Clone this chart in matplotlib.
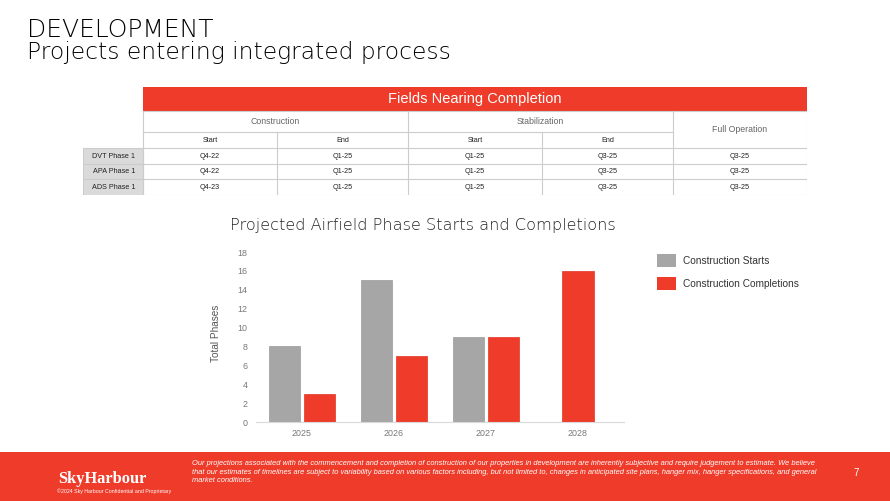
import matplotlib
matplotlib.use('Agg')
import matplotlib.pyplot as plt
from matplotlib.patches import Rectangle, Patch

W, H = 890, 501

# ---------------- data ----------------
years = ['2025', '2026', '2027', '2028']
construction_starts = [8, 15, 9, None]
construction_completions = [3, 7, 9, 16]
series_names = ['Construction Starts', 'Construction Completions']
yticks = [0, 2, 4, 6, 8, 10, 12, 14, 16, 18]

table_title = 'Fields Nearing Completion'
group_labels = ['Construction', 'Stabilization', 'Full Operation']
sub_labels = ['Start', 'End', 'Start', 'End']
row_labels = ['DVT Phase 1', 'APA Phase 1', 'ADS Phase 1']
construction_start = ['Q4-22', 'Q4-22', 'Q4-23']
construction_end = ['Q1-25', 'Q1-25', 'Q1-25']
stabilization_start = ['Q1-25', 'Q1-25', 'Q1-25']
stabilization_end = ['Q3-25', 'Q3-25', 'Q3-25']
full_operation = ['Q3-25', 'Q3-25', 'Q3-25']

title = 'DEVELOPMENT'
subtitle = 'Projects entering integrated process'
chart_title = 'Projected Airfield Phase Starts and Completions'
y_label = 'Total Phases'
logo = 'SkyHarbour'
copyright_text = '\u00a92024 Sky Harbour Confidential and Proprietary'
disclaimer = ('Our projections associated with the commencement and completion of construction of our properties in development are inherently subjective and require judgement to estimate. We believe\n'
              'that our estimates of timelines are subject to variability based on various factors including, but not limited to, changes in anticipated site plans, hanger mix, hanger specifications, and general\n'
              'market conditions.')
page_number = '7'

# ---------------- style ----------------
RED = '#ee3b2a'
GRAY = '#a6a6a6'
SANS = 'Liberation Sans'

fig = plt.figure(figsize=(W / 100, H / 100), dpi=100)
fig.patch.set_facecolor('white')


def fx(px):
    return px / W


def fy(py):
    return 1 - py / H


# ---------------- titles ----------------
fig.text(fx(27), fy(37), title, fontsize=18, family='DejaVu Sans', color='#000000',
         va='baseline', ha='left', fontweight='light')
fig.text(fx(27), fy(59), subtitle, fontsize=16.8, family='DejaVu Sans', color='#000000',
         va='baseline', ha='left', fontweight='light')

# ---------------- table ----------------
col_w = [60, 134, 131, 134, 131, 134]
row_h = [24, 21, 16, 16, 15, 16]
tx0, ty0 = 83, 87
tw, th = sum(col_w), sum(row_h)
axt = fig.add_axes([fx(tx0), fy(ty0 + th), tw / W, th / H])
axt.set_xlim(0, tw)
axt.set_ylim(th, 0)
axt.axis('off')

cx = [0]
for w in col_w:
    cx.append(cx[-1] + w)
ry = [0]
for h in row_h:
    ry.append(ry[-1] + h)

LINE = '#cccccc'
lw = 0.8
# header
axt.add_patch(Rectangle((cx[1], ry[0]), cx[6] - cx[1], row_h[0], facecolor=RED, edgecolor='none'))
axt.text((cx[1] + cx[6]) / 2, (ry[0] + ry[1]) / 2 + 0.5, table_title, color='white', fontsize=10.5,
         family=SANS, ha='center', va='center')

# row label cells
for i, lab in enumerate(row_labels):
    y0 = ry[3 + i]
    axt.add_patch(Rectangle((cx[0], y0), col_w[0], row_h[3 + i], facecolor='#dadada',
                            edgecolor=LINE, lw=lw))
    axt.text(cx[1] - 8, y0 + row_h[3 + i] / 2, lab, fontsize=5.2, family=SANS, color='#222222',
             ha='right', va='center')

# group row
group_spans = [(1, 3), (3, 5), (5, 6)]
for (a, b), lab in zip(group_spans, group_labels):
    if lab == group_labels[-1]:
        yc = (ry[1] + ry[3]) / 2
    else:
        yc = (ry[1] + ry[2]) / 2
    axt.text((cx[a] + cx[b]) / 2, yc, lab, fontsize=6.3, family=SANS, color='#666666',
             ha='center', va='center')
for j, lab in enumerate(sub_labels):
    axt.text((cx[1 + j] + cx[2 + j]) / 2, (ry[2] + ry[3]) / 2, lab, fontsize=5.2, family=SANS,
             color='#222222', ha='center', va='center')

columns = [construction_start, construction_end, stabilization_start, stabilization_end, full_operation]
for j, col in enumerate(columns):
    for i, v in enumerate(col):
        axt.text((cx[1 + j] + cx[2 + j]) / 2, (ry[3 + i] + ry[4 + i]) / 2, v, fontsize=5.2,
                 family=SANS, color='#222222', ha='center', va='center')

# grid lines
for k in [1, 3, 4, 5, 6]:
    axt.plot([cx[1], cx[6]], [ry[k], ry[k]], color=LINE, lw=lw)
axt.plot([cx[1], cx[5]], [ry[2], ry[2]], color=LINE, lw=lw)
for k in [1, 3, 5, 6]:
    axt.plot([cx[k], cx[k]], [ry[1], ry[6]], color=LINE, lw=lw)
for k in [2, 4]:
    axt.plot([cx[k], cx[k]], [ry[2], ry[6]], color=LINE, lw=lw)

# ---------------- chart ----------------
fig.text(fx(423), fy(226), chart_title, fontsize=11.6, family='DejaVu Sans', color='#222222',
         ha='center', va='center', fontweight='light')

ax = fig.add_axes([fx(256), fy(422), 368 / W, 170 / H])
bw = 0.337
off = 0.19
for i, (s, c) in enumerate(zip(construction_starts, construction_completions)):
    both = s is not None and c is not None
    if s is not None:
        ax.bar(i - off if both else i, s, width=bw, color=GRAY, edgecolor='#999999', lw=0.5)
    if c is not None:
        ax.bar(i + off if both else i, c, width=bw, color=RED, edgecolor='#e03322', lw=0.5)
ax.set_xlim(-0.5, 3.5)
ax.set_ylim(0, 18)
ax.set_xticks(range(len(years)))
ax.set_xticklabels(years)
ax.set_yticks(yticks)
for sp in ['top', 'right', 'left']:
    ax.spines[sp].set_visible(False)
ax.spines['bottom'].set_color('#d9d9d9')
ax.spines['bottom'].set_linewidth(0.8)
ax.tick_params(length=0, labelsize=6.4, labelcolor='#777777')
ax.tick_params(axis='y', pad=6)
ax.tick_params(axis='x', pad=5)
for t in ax.get_xticklabels() + ax.get_yticklabels():
    t.set_family(SANS)
ax.set_ylabel(y_label, fontsize=7.2, family=SANS, color='#555555')
ax.yaxis.set_label_coords(-0.095, 0.52)

handles = [Patch(facecolor=GRAY, edgecolor='none'), Patch(facecolor=RED, edgecolor='none')]
fig.legend(handles, series_names, loc='upper left', bbox_to_anchor=(fx(657), fy(254)),
           frameon=False, borderpad=0, borderaxespad=0, handlelength=1.9, handleheight=1.6,
           handletextpad=0.7, labelspacing=1.0, prop={'family': SANS, 'size': 7.3},
           labelcolor='#333333')

# ---------------- footer ----------------
fig.patches.append(Rectangle((0, 0), 1, fy(452), transform=fig.transFigure, facecolor=RED,
                             edgecolor='none', zorder=0))
fig.text(fx(58), fy(483), logo, fontsize=11.8, family='Liberation Serif', fontweight='bold',
         color='white', va='baseline', ha='left')
fig.text(fx(57), fy(491), copyright_text, fontsize=3.8, family=SANS, color='white',
         va='center', ha='left')
fig.text(fx(192), fy(460), disclaimer, fontsize=5.4, family=SANS, style='italic', color='white',
         va='top', ha='left', linespacing=1.3)
fig.text(fx(856), fy(473), page_number, fontsize=7, family=SANS, color='white',
         va='center', ha='center')

fig.savefig('out.png', dpi=100)
